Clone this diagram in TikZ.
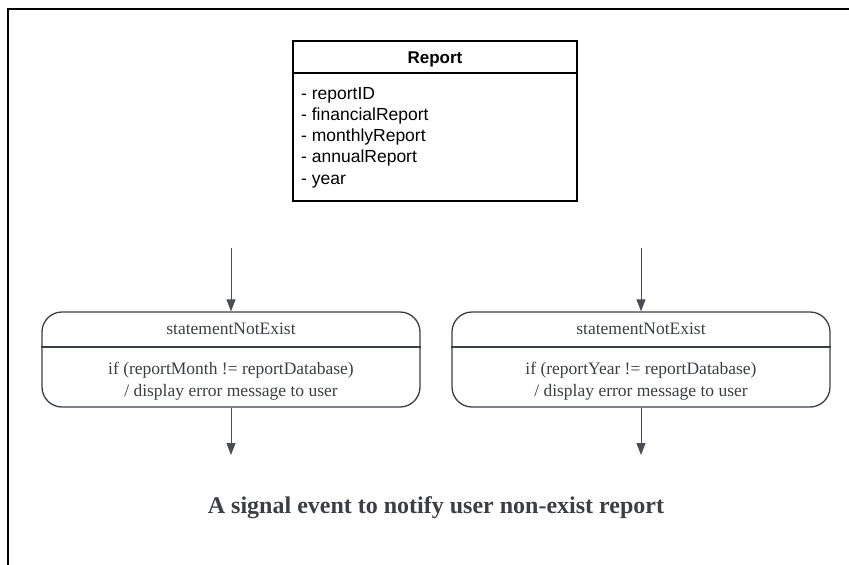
\documentclass[tikz,border=0pt]{standalone}
\usepackage{fontspec}
\setmainfont{Liberation Serif}
\setsansfont{Liberation Sans}
\usetikzlibrary{arrows.meta}
\definecolor{ink}{HTML}{3B3F45}
\definecolor{wire}{HTML}{4A4E54}
\tikzset{
  frame/.style={line width=2pt, draw=black},
  classbox/.style={draw=black, line width=1.3pt, minimum width=284pt, minimum height=160pt, inner sep=0pt},
  statebox/.style={draw=ink, line width=1.3pt, rounded corners=20pt, minimum width=378pt, minimum height=95pt, inner sep=0pt},
  classtitle/.style={font=\sffamily\bfseries\fontsize{17}{20}\selectfont, anchor=base, inner sep=0pt},
  attr/.style={font=\sffamily\fontsize{17.5}{20}\selectfont, anchor=base west, inner sep=0pt},
  statetext/.style={font=\fontsize{17.5}{20}\selectfont, text=ink, anchor=base, inner sep=0pt},
  flow/.style={draw=wire, line width=1pt, -{Triangle[width=9pt,length=12pt]}},
  caption/.style={font=\bfseries\fontsize{24}{28}\selectfont, text=ink, anchor=base, inner sep=0pt}
}
\begin{document}
\begin{tikzpicture}[x=1pt,y=-1pt]
\useasboundingbox (0,0) rectangle (849,565);
% outer frame, open towards the right and the bottom
\coordinate (fr) at (849,9);
\coordinate (fc) at (8,9);
\coordinate (fb) at (8,565);
\draw[frame] (fr) -- (fc) -- (fb);

% class box
\node[classbox] (report) at (435,121) {};
\coordinate (rdiv) at (0,73);
\draw[line width=1.3pt] (report.west |- rdiv) -- (report.east |- rdiv);
\node[classtitle] (rtitle) at (435,63) {Report};
\node[attr] (at1) at (301,99) {- reportID};
\node[attr] (at2) at (301,120.3) {- financialReport};
\node[attr] (at3) at (301,141.5) {- monthlyReport};
\node[attr] (at4) at (301,162.8) {- annualReport};
\node[attr] (at5) at (301,184) {- year};

% state boxes
\coordinate (sdiv) at (0,347);
\node[statebox] (sleft) at (231,359.5) {};
\draw[draw=ink, line width=1.3pt] (sleft.west |- sdiv) -- (sleft.east |- sdiv);
\node[statetext] (ltitle) at (231,334) {statementNotExist};
\node[statetext] (lcond) at (231,374) {if (reportMonth != reportDatabase)};
\node[statetext] (lact) at (231,396) {/ display error message to user};

\node[statebox] (sright) at (641,359.5) {};
\draw[draw=ink, line width=1.3pt] (sright.west |- sdiv) -- (sright.east |- sdiv);
\node[statetext] (rtitle2) at (641,334) {statementNotExist};
\node[statetext] (rcond) at (641,374) {if (reportYear != reportDatabase)};
\node[statetext] (ract) at (641,396) {/ display error message to user};

% transitions
\coordinate (lin) at (231,248);
\coordinate (lout) at (231,455);
\coordinate (rin) at (641,248);
\coordinate (rout) at (641,455);
\draw[flow] (lin) -- (sleft.north);
\draw[flow] (sleft.south) -- (lout);
\draw[flow] (rin) -- (sright.north);
\draw[flow] (sright.south) -- (rout);

% caption
\node[caption] (cap) at (436,513) {A signal event to notify user non-exist report};
\end{tikzpicture}
\end{document}
